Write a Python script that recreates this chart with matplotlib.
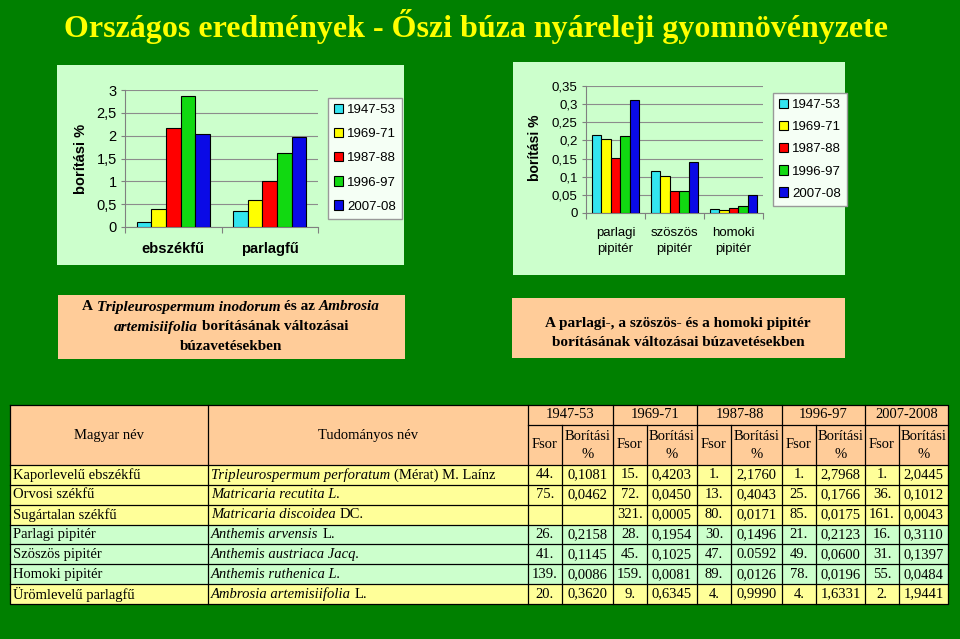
import numpy as np
import matplotlib
matplotlib.use('Agg')
import matplotlib.pyplot as plt
from matplotlib.patches import Rectangle
from matplotlib.ticker import FuncFormatter, MultipleLocator

# Chart data
periods = ['1947-53', '1969-71', '1987-88', '1996-97', '2007-08']
left_cats = ['ebszékfű', 'parlagfű']
ebszekfu = [0.11, 0.39, 2.17, 2.86, 2.04]
parlagfu = [0.36, 0.59, 1.00, 1.63, 1.96]

right_cats = ['parlagi\npipitér', 'szöszös\npipitér', 'homoki\npipitér']
parlagi_pipiter = [0.216, 0.203, 0.151, 0.212, 0.311]
szoszos_pipiter = [0.115, 0.101, 0.060, 0.060, 0.141]
homoki_pipiter = [0.010, 0.007, 0.013, 0.020, 0.050]

# Table data
table_periods = ['1947-53', '1969-71', '1987-88', '1996-97', '2007-2008']
hu_names = ['Kaporlevelű ebszékfű', 'Orvosi székfű', 'Sugártalan székfű', 'Parlagi pipitér',
            'Szöszös pipitér', 'Homoki pipitér', 'Ürömlevelű parlagfű']
sci_names = [
    [('Tripleurospermum perforatum', 'italic'), ('(Mérat) M. Laínz', 'normal')],
    [('Matricaria recutita L.', 'italic')],
    [('Matricaria discoidea', 'italic'), ('DC.', 'normal')],
    [('Anthemis arvensis', 'italic'), ('L.', 'normal')],
    [('Anthemis austriaca Jacq.', 'italic')],
    [('Anthemis ruthenica L.', 'italic')],
    [('Ambrosia artemisiifolia', 'italic'), ('L.', 'normal')],
]
fsor_1947 = ['44.', '75.', '', '26.', '41.', '139.', '20.']
bor_1947 = ['0,1081', '0,0462', '', '0,2158', '0,1145', '0,0086', '0,3620']
fsor_1969 = ['15.', '72.', '321.', '28.', '45.', '159.', '9.']
bor_1969 = ['0,4203', '0,0450', '0,0005', '0,1954', '0,1025', '0,0081', '0,6345']
fsor_1987 = ['1.', '13.', '80.', '30.', '47.', '89.', '4.']
bor_1987 = ['2,1760', '0,4043', '0,0171', '0,1496', '0.0592', '0,0126', '0,9990']
fsor_1996 = ['1.', '25.', '85.', '21.', '49.', '78.', '4.']
bor_1996 = ['2,7968', '0,1766', '0,0175', '0,2123', '0,0600', '0,0196', '1,6331']
fsor_2007 = ['1.', '36.', '161.', '16.', '31.', '55.', '2.']
bor_2007 = ['2,0445', '0,1012', '0,0043', '0,3110', '0,1397', '0,0484', '1,9441']

GREEN = '#008000'
PANEL = '#CCFFCC'
PEACH = '#FFCC99'
YEL = '#FFFF99'
bar_colors = ['#33E5F0', '#FFFF00', '#FF0000', '#11D911', '#0A0AE6']
row_colors = [YEL, YEL, YEL, PANEL, PANEL, PANEL, YEL]

plt.rcParams['font.family'] = 'Liberation Sans'

W, H = 960, 639
fig = plt.figure(figsize=(9.6, 6.39), dpi=100)
fig.patch.set_facecolor(GREEN)

# overlay in pixel coordinates (y down)
ax0 = fig.add_axes([0, 0, 1, 1])
ax0.set_xlim(0, W)
ax0.set_ylim(H, 0)
ax0.axis('off')
renderer = fig.canvas.get_renderer()


def fig_rect(x0, y0, x1, y1):
    return [x0 / W, 1 - y1 / H, (x1 - x0) / W, (y1 - y0) / H]


def box(x0, y0, x1, y1, color):
    ax0.add_patch(Rectangle((x0, y0), x1 - x0, y1 - y0, facecolor=color, edgecolor='none', zorder=1))


def rich(x, y, parts, ha='left', size=10.5, weight='normal'):
    texts = [ax0.text(0, y, s, fontsize=size, family='Liberation Serif', style=st, weight=weight,
                      va='center', ha='left', zorder=5) for s, st in parts]
    widths = [t.get_window_extent(renderer).width for t in texts]
    sp = size * 100 / 72 * 0.25
    total = sum(widths) + sp * (len(texts) - 1)
    cx = x - total / 2 if ha == 'center' else x
    for t, w in zip(texts, widths):
        t.set_x(cx)
        cx += w + sp


# title
ax0.text(476, 37, 'Országos eredmények - Őszi búza nyáreleji gyomnövényzete', ha='center', va='baseline',
         fontsize=23, family='Liberation Serif', weight='bold', color='#FFFF00')

# chart panels and caption boxes
box(57, 65, 404, 265, PANEL)
box(513, 62, 845, 275, PANEL)
box(58, 295, 405, 359, PEACH)
box(512, 298, 845, 358, PEACH)

rich(231, 307, [('A', 'normal'), ('Tripleurospermum inodorum', 'italic'), ('és az', 'normal'),
                ('Ambrosia', 'italic')], ha='center', size=11, weight='bold')
rich(231, 327, [('artemisiifolia', 'italic'), ('borításának változásai', 'normal')],
     ha='center', size=11, weight='bold')
rich(231, 347, [('búzavetésekben', 'normal')], ha='center', size=11, weight='bold')
rich(678, 323, [('A parlagi-, a szöszös- és a homoki pipitér', 'normal')], ha='center', size=11, weight='bold')
rich(678, 342, [('borításának változásai búzavetésekben', 'normal')], ha='center', size=11, weight='bold')


def draw_chart(rect, cats, vals, group_w, ymax, ystep, tick_size, cat_size, cat_weight, cat_pad):
    ax = fig.add_axes(fig_rect(*rect))
    ax.set_zorder(2)
    ax.patch.set_alpha(0)
    data = np.array(vals)
    n = len(periods)
    w = group_w / n
    x = np.arange(len(cats))
    for i, (p, c) in enumerate(zip(periods, bar_colors)):
        ax.bar(x - group_w / 2 + w * (i + 0.5), data[:, i], w, color=c, edgecolor='black',
               linewidth=0.8, label=p, zorder=3)
    ax.set_xlim(-0.5, len(cats) - 0.5)
    ax.set_ylim(0, ymax)
    ax.yaxis.set_major_locator(MultipleLocator(ystep))
    ax.yaxis.set_major_formatter(FuncFormatter(lambda v, _: f'{v:g}'.replace('.', ',')))
    ax.grid(axis='y', color='#8C8C8C', linewidth=0.8, zorder=0)
    ax.set_axisbelow(True)
    for s in ['top', 'right']:
        ax.spines[s].set_visible(False)
    for s in ['left', 'bottom']:
        ax.spines[s].set_color('#808080')
    ax.set_xticks(np.arange(len(cats) + 1) - 0.5)
    ax.set_xticklabels([])
    ax.set_xticks(x, minor=True)
    ax.set_xticklabels(cats, minor=True, fontsize=cat_size, weight=cat_weight, linespacing=1.45)
    ax.tick_params(axis='x', which='minor', length=0, pad=cat_pad)
    ax.tick_params(axis='x', which='major', length=4, color='#808080')
    ax.tick_params(axis='y', length=3, color='#808080', labelsize=tick_size, pad=3)
    return ax


axl = draw_chart((125, 90, 318, 227), left_cats, [ebszekfu, parlagfu], 0.76, 3, 0.5, 10.5, 10.5, 'bold', 11)
axr = draw_chart((586, 86, 763, 213), right_cats, [parlagi_pipiter, szoszos_pipiter, homoki_pipiter],
                 0.8, 0.35, 0.05, 9.5, 9.5, 'normal', 10)

for ax, lx, ly, sp in [(axl, 328, 98, 0.9), (axr, 773, 93, 0.75)]:
    ax.legend(loc='upper left', bbox_to_anchor=(lx / W, 1 - ly / H), bbox_transform=fig.transFigure,
              fontsize=9.5, frameon=True, fancybox=False, edgecolor='#999999', facecolor='#F5FFF5',
              framealpha=1, handlelength=0.7, handleheight=0.7, handletextpad=0.3,
              labelspacing=sp, borderpad=0.45, borderaxespad=0)

ax0.text(81, 159, 'borítási %', rotation=90, ha='center', va='center', fontsize=10.5, weight='bold')
ax0.text(535, 148, 'borítási %', rotation=90, ha='center', va='center', fontsize=10, weight='bold')

# table
col_edges = [10, 208, 528, 562, 613, 647, 697, 731, 782, 816, 865, 899, 948]
top, mid, head_bot, bottom = 405, 425, 465, 604
row_h = (bottom - head_bot) / len(hu_names)
box(col_edges[0], top, col_edges[-1], head_bot, PEACH)
for i, c in enumerate(row_colors):
    box(col_edges[0], head_bot + i * row_h, col_edges[-1], head_bot + (i + 1) * row_h, c)

lk = dict(color='black', linewidth=0.9, zorder=4)
ax0.plot([col_edges[0], col_edges[-1], col_edges[-1], col_edges[0], col_edges[0]],
         [top, top, bottom, bottom, top], **lk)
for j, xe in enumerate(col_edges[1:-1], start=1):
    y0 = top if (j <= 2 or j % 2 == 0) else mid
    ax0.plot([xe, xe], [y0, bottom], **lk)
ax0.plot([col_edges[2], col_edges[-1]], [mid, mid], **lk)
for i in range(len(hu_names)):
    yy = head_bot + i * row_h
    ax0.plot([col_edges[0], col_edges[-1]], [yy, yy], **lk)

tk = dict(fontsize=10.5, family='Liberation Serif', ha='center', va='center', zorder=5)
ax0.text((col_edges[0] + col_edges[1]) / 2, 435, 'Magyar név', **tk)
ax0.text((col_edges[1] + col_edges[2]) / 2, 435, 'Tudományos név', **tk)
fsor_cols = [fsor_1947, fsor_1969, fsor_1987, fsor_1996, fsor_2007]
bor_cols = [bor_1947, bor_1969, bor_1987, bor_1996, bor_2007]
for g, per in enumerate(table_periods):
    xa, xb, xc = col_edges[2 + 2 * g], col_edges[3 + 2 * g], col_edges[4 + 2 * g]
    ax0.text((xa + xc) / 2, 415, per, **tk)
    ax0.text((xa + xb) / 2, 445, 'Fsor', **tk)
    ax0.text((xb + xc) / 2, 437, 'Borítási', **tk)
    ax0.text((xb + xc) / 2, 455, '%', **tk)
    for i in range(len(hu_names)):
        yc = head_bot + (i + 0.5) * row_h
        ax0.text((xa + xb) / 2, yc, fsor_cols[g][i], **tk)
        ax0.text((xb + xc) / 2, yc, bor_cols[g][i], **tk)

for i, (hn, sn) in enumerate(zip(hu_names, sci_names)):
    yc = head_bot + (i + 0.5) * row_h
    ax0.text(col_edges[0] + 3, yc, hn, fontsize=10.5, family='Liberation Serif', ha='left', va='center', zorder=5)
    rich(col_edges[1] + 3, yc, sn, size=10.5)

fig.savefig('out.png', dpi=100, facecolor=fig.get_facecolor())
